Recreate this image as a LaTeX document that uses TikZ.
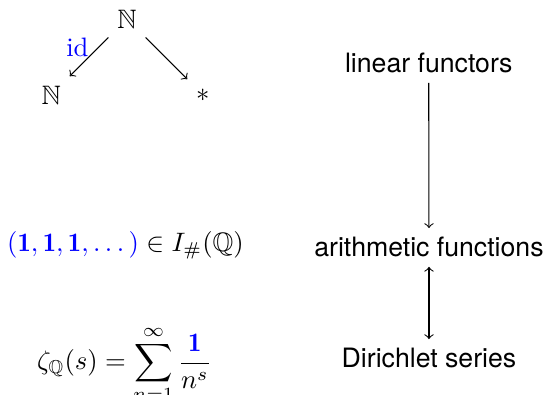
\documentclass[tikz,border=0pt]{standalone}
\usepackage{amsmath}
\usepackage{amssymb}
\usepackage{xcolor}
\usepackage{fontspec}
\usepackage{tikz}
\usetikzlibrary{positioning}
\newfontfamily\headsans{TeX Gyre Heros}
\definecolor{hlblue}{RGB}{0,0,255}
\tikzset{
  obj/.style  ={inner sep=0.3333em},
  lvl/.style  ={font=\headsans, anchor=base},
  eqn/.style  ={anchor=base},
  map/.style  ={->},
  dualmap/.style={<->},
  idlbl/.style={text=hlblue, anchor=south east, inner sep=0pt},
}

\begin{document}
\begin{tikzpicture}
\useasboundingbox (0,0) rectangle (7.170,-5.206);
% the small diagram
\node[obj] (top) at (1.674,-0.250) {$\mathbb{N}$};
\node[obj] (nat) at (0.674,-1.250) {$\mathbb{N}$};
\node[obj] (pt)  at (2.674,-1.250) {$*$};
\draw[map] (top) -- node[idlbl]{id} (nat);
\draw[map] (top) -- (pt);
% examples
\node[eqn] (ones) at (1.654,-3.317)
  {$\textcolor{hlblue}{(\mathbf{1},\mathbf{1},\mathbf{1},\dots)} \in I_{\#}(\mathbb{Q})$};
\node[eqn] (zeta) at (1.640,-4.873)
  {$\displaystyle \zeta_{\mathbb{Q}}(s) = \sum_{n=1}^{\infty} \frac{\textcolor{hlblue}{\mathbf{1}}}{n^s}$};
% levels
\node[lvl] (lin)   at (5.650,-0.962) {linear functors};
\node[lvl] (arith) at (5.654,-3.387) {arithmetic functions};
\node[lvl] (dir)   at (5.654,-4.850) {Dirichlet series};
\draw[map] (lin) -- (arith);
\draw[dualmap] (arith) -- (dir);
\end{tikzpicture}
\end{document}
